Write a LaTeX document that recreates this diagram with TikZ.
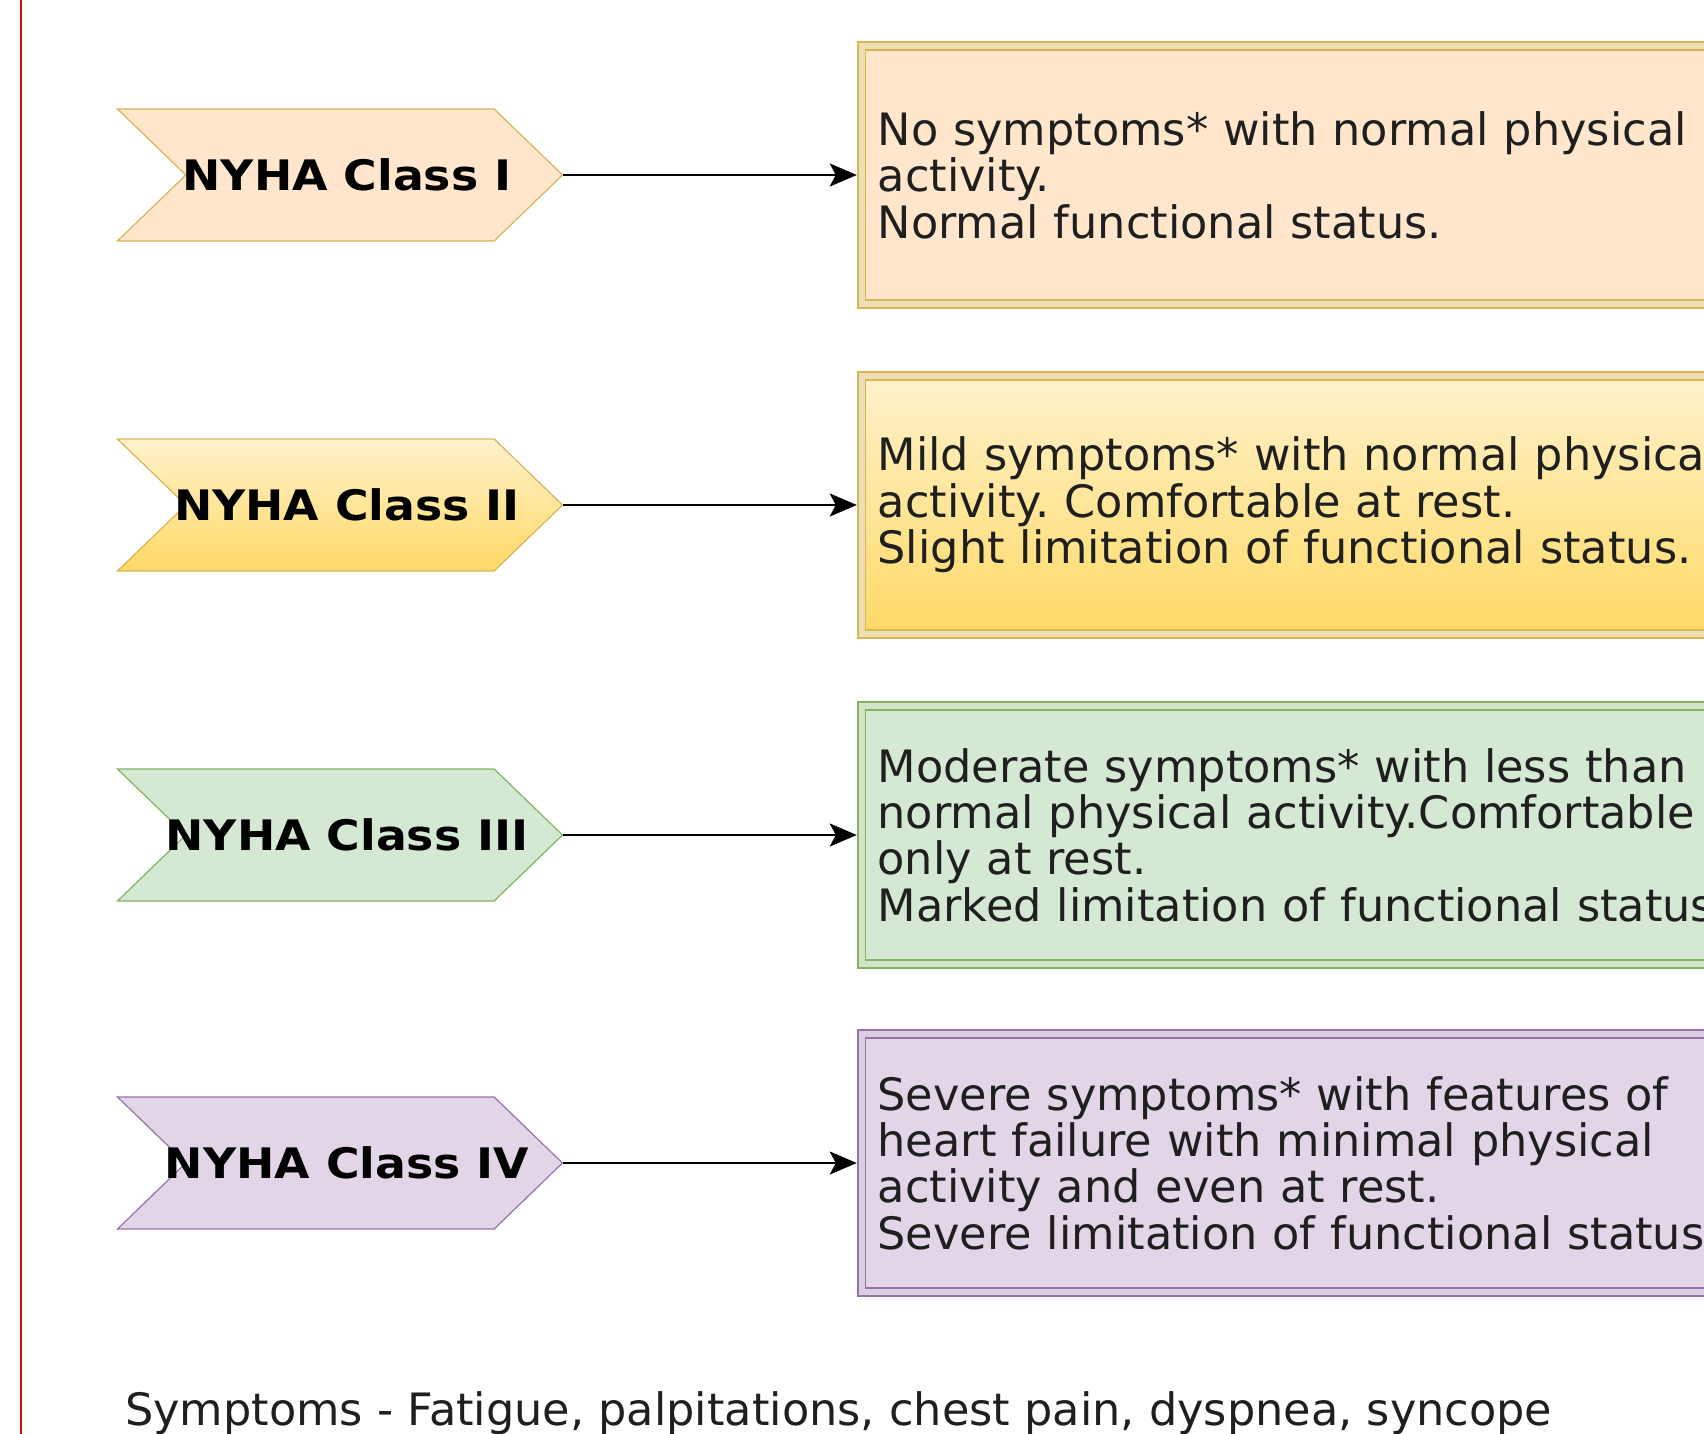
\documentclass[tikz,border=0pt]{standalone}
\usepackage{fontspec}
\setmainfont{DejaVu Sans}
\usetikzlibrary{positioning,shapes.symbols,arrows.meta}
\frenchspacing

\definecolor{peachfill}{HTML}{FFE6CC}
\definecolor{goldline}{HTML}{D6B656}
\definecolor{yellowtop}{HTML}{FFF2CC}
\definecolor{yellowbot}{HTML}{FFD966}
\definecolor{greenfill}{HTML}{D5E8D4}
\definecolor{greenline}{HTML}{82B366}
\definecolor{purplefill}{HTML}{E1D5E7}
\definecolor{purpleline}{HTML}{9673A6}
\definecolor{edgered}{HTML}{CC1010}

\newcommand{\classlabel}[1]{\makebox[0pt]{\hspace*{7pt}\scalebox{1.09}[1]{#1}}}

\tikzset{
  chevron/.style={signal, signal from=west, signal to=east, signal pointer angle=88,
    minimum width=222.5pt, minimum height=66pt, inner sep=0pt, line width=0.6pt,
    font=\bfseries\fontsize{21}{23}\selectfont},
  descbox/.style={rectangle, double distance=3pt, line width=0.9pt,
    text width=480pt, align=left, inner xsep=8pt, minimum height=129pt,
    font=\fontsize{22.3}{23.2}\selectfont, text=black!88},
  link/.style={line width=1pt, -{Stealth[length=13.5pt,width=11.5pt,inset=3pt]}, shorten >=2pt},
}

\begin{document}
\begin{tikzpicture}[x=0.5pt,y=-0.5pt]
    \clip (0,0) rectangle (1704,1434);
    \fill[white] (0,0) rectangle (1704,1434);
    \draw[edgered, line width=1pt] (21,0) -- (21,1434);

    % classes on the left
    \node[chevron, fill=peachfill, draw=goldline] (c1) at (340,175) {\classlabel{NYHA Class I}};
    \node[chevron, top color=yellowtop, bottom color=yellowbot, draw=goldline] (c2) at (340,505) {\classlabel{NYHA Class II}};
    \node[chevron, fill=greenfill, draw=greenline] (c3) at (340,835) {\classlabel{NYHA Class III}};
    \node[chevron, fill=purplefill, draw=purpleline] (c4) at (340,1163) {\classlabel{NYHA Class IV}};

    % descriptions on the right
    \node[descbox, fill=peachfill, draw=goldline, double=goldline!45, right=148.7pt of c1] (b1)
        {No symptoms* with normal physical\\ activity.\\ Normal functional status.};
    \node[descbox, top color=yellowtop, bottom color=yellowbot, draw=goldline, double=goldline!45, right=148.7pt of c2] (b2)
        {Mild symptoms* with normal physical\\ activity. Comfortable at rest.\\ Slight limitation of functional status.};
    \node[descbox, fill=greenfill, draw=greenline, double=greenline!35, right=148.7pt of c3] (b3)
        {Moderate symptoms* with less than\\ normal physical activity.Comfortable\\ only at rest.\\ Marked limitation of functional status.};
    \node[descbox, fill=purplefill, draw=purpleline, double=purpleline!35, right=148.7pt of c4] (b4)
        {Severe symptoms* with features of\\ heart failure with minimal physical\\ activity and even at rest.\\ Severe limitation of functional status.};

    \draw[link] (c1.east) -- (b1.west);
    \draw[link] (c2.east) -- (b2.west);
    \draw[link] (c3.east) -- (b3.west);
    \draw[link] (c4.east) -- (b4.west);

    \node[anchor=base west, font=\fontsize{22.3}{23.2}\selectfont, text=black!88] (foot) at (118,1425)
        {Symptoms - Fatigue, palpitations, chest pain, dyspnea, syncope};
\end{tikzpicture}
\end{document}
